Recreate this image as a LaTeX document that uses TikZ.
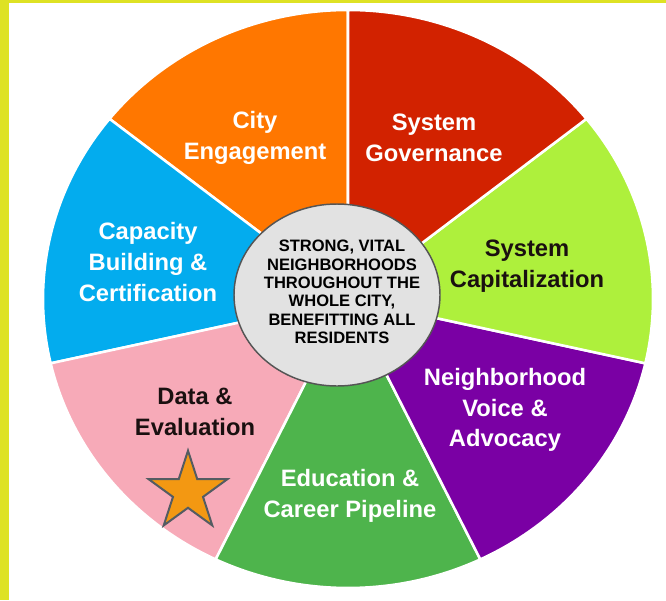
\documentclass[tikz,border=0pt]{standalone}
\usepackage{fontspec}
\setmainfont{Liberation Sans}
\usepackage{tikz}
\usepackage{xcolor}
\usetikzlibrary{shapes.geometric}

\begin{document}
\begin{tikzpicture}[x=0.75pt,y=0.75pt,yscale=-1,xscale=1,
  sector/.style={draw=white,line width=1.9pt,line join=round},
  seglabel/.style={align=center,inner sep=0.75pt,text=white,font=\bfseries\fontsize{17.8}{22.9}\selectfont},
  darklabel/.style={seglabel,text={rgb, 255:red, 26; green, 16; blue, 16 }},
  hubtext/.style={align=center,inner sep=0.75pt,font=\bfseries\fontsize{12.4}{13.8}\selectfont},
  goldstar/.style={star,star points=5,star point ratio=2.618,minimum size=62pt,inner sep=0pt,
    fill={rgb, 255:red, 243; green, 152; blue, 18 },draw={rgb, 255:red, 84; green, 92; blue, 98 },line width=1.5pt}]
\useasboundingbox (0,0) rectangle (666,600);

%Shape: Rectangle [yellow frame]
\fill [fill={rgb, 255:red, 222; green, 226; blue, 36 }] (0,0) rectangle (9,600) ;
\fill [fill={rgb, 255:red, 222; green, 226; blue, 36 }] (0,0) rectangle (666,2.5) ;

%Shape: Sector [City Engagement]
\draw [sector,fill={rgb, 255:red, 255; green, 119; blue, 0 }] (348,299) -- ++(-90:305 and 289) arc [start angle=-90, end angle=-141.43, x radius=305, y radius=289] -- cycle ;
%Shape: Sector [Capacity Building]
\draw [sector,fill={rgb, 255:red, 3; green, 172; blue, 238 }] (348,299) -- ++(-141.43:305 and 289) arc [start angle=-141.43, end angle=-192.86, x radius=305, y radius=289] -- cycle ;
%Shape: Sector [Data]
\draw [sector,fill={rgb, 255:red, 247; green, 170; blue, 184 }] (348,299) -- ++(-192.86:305 and 289) arc [start angle=-192.86, end angle=-244.29, x radius=305, y radius=289] -- cycle ;
%Shape: Sector [Education]
\draw [sector,fill={rgb, 255:red, 78; green, 180; blue, 76 }] (348,299) -- ++(-244.29:305 and 289) arc [start angle=-244.29, end angle=-295.71, x radius=305, y radius=289] -- cycle ;
%Shape: Sector [Neighborhood Voice]
\draw [sector,fill={rgb, 255:red, 122; green, 0; blue, 164 }] (348,299) -- ++(-295.71:305 and 289) arc [start angle=-295.71, end angle=-347.14, x radius=305, y radius=289] -- cycle ;
%Shape: Sector [System Capitalization]
\draw [sector,fill={rgb, 255:red, 174; green, 240; blue, 60 }] (348,299) -- ++(12.86:305 and 289) arc [start angle=12.86, end angle=-38.57, x radius=305, y radius=289] -- cycle ;
%Shape: Sector [System Governance]
\draw [sector,fill={rgb, 255:red, 210; green, 34; blue, 0 }] (348,299) -- ++(-38.57:305 and 289) arc [start angle=-38.57, end angle=-90, x radius=305, y radius=289] -- cycle ;

%Shape: Ellipse [hub]
\draw [fill={rgb, 255:red, 226; green, 226; blue, 226 },draw={rgb, 255:red, 85; green, 85; blue, 85 },line width=1.1pt] (337,295) ellipse [x radius=103, y radius=91] ;

%Shape: Star
\draw (188,492) node [goldstar] (star) {};

% Text Node
\draw (342,292) node [hubtext] (hub) {STRONG, VITAL\\NEIGHBORHOODS\\THROUGHOUT THE\\WHOLE CITY,\\BENEFITTING ALL\\RESIDENTS};
% Text Node
\draw (255,138) node [seglabel] (cityeng) {City\\Engagement};
% Text Node
\draw (434,138) node [seglabel] (sysgov) {System\\Governance};
% Text Node
\draw (527,266) node [darklabel] (syscap) {System\\Capitalization};
% Text Node
\draw (148,262) node [seglabel] (capbuild) {Capacity\\Building \&\\Certification};
% Text Node
\draw (195,412) node [darklabel] (dataeval) {Data \&\\Evaluation};
% Text Node
\draw (350,496) node [seglabel] (educareer) {Education \&\\Career Pipeline};
% Text Node
\draw (505,410) node [seglabel] (neighvoice) {Neighborhood\\Voice \&\\Advocacy};
\end{tikzpicture}
\end{document}
